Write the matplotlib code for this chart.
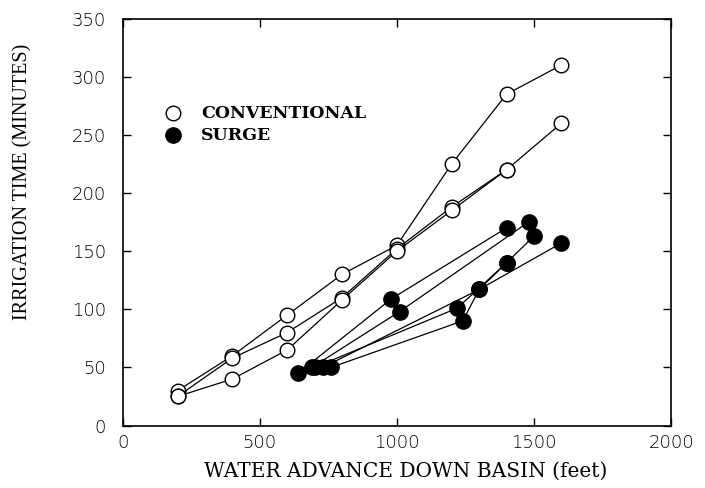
import matplotlib
matplotlib.use("Agg")
import matplotlib.pyplot as plt

# conventional runs (open circles)
conv_x = [
    [200, 400, 600, 800, 1000, 1200, 1400, 1600],
    [200, 400, 600, 800, 1000, 1200, 1400, 1600],
    [200, 400, 600, 800, 1000, 1200, 1400],
]
conv_y = [
    [30, 60, 95, 130, 155, 225, 285, 310],
    [25, 58, 80, 110, 152, 188, 220, 260],
    [25, 40, 65, 108, 150, 185, 220],
]

# surge runs (filled circles)
surge_x = [
    [640, 980, 1400],
    [690, 1010, 1480],
    [700, 1220, 1400, 1500],
    [760, 1240, 1300, 1400],
    [730, 1300, 1600],
]
surge_y = [
    [45, 109, 170],
    [50, 98, 175],
    [50, 101, 140, 163],
    [50, 90, 117, 140],
    [50, 117, 157],
]

x_ticks = [0, 500, 1000, 1500, 2000]
y_ticks = [0, 50, 100, 150, 200, 250, 300, 350]

fig = plt.figure(figsize=(7.05, 4.88), dpi=100)
ax = fig.add_axes([0.174, 0.128, 0.778, 0.834])

for xs, ys in zip(conv_x, conv_y):
    ax.plot(xs, ys, color='black', lw=0.9, marker='o', ms=10.5,
            mfc='white', mec='black', mew=1.0)
for xs, ys in zip(surge_x, surge_y):
    ax.plot(xs, ys, color='black', lw=0.9, marker='o', ms=11,
            mfc='black', mec='black')

ax.set_xlim(0, 2000)
ax.set_ylim(0, 350)
ax.set_xticks(x_ticks)
ax.set_yticks(y_ticks)
ax.tick_params(direction='in', length=6, width=1, top=True, right=True,
               labelsize=13, pad=6)
ax.tick_params(axis='y', pad=12)
for lbl in ax.get_xticklabels() + ax.get_yticklabels():
    lbl.set_fontfamily('DejaVu Sans')
    lbl.set_fontweight('light')
for sp in ax.spines.values():
    sp.set_linewidth(1.2)

# legend drawn by hand, like the original
ax.plot([0.092], [0.767], transform=ax.transAxes, marker='o', ms=10.5,
        mfc='white', mec='black', mew=1.0, clip_on=False)
ax.plot([0.092], [0.713], transform=ax.transAxes, marker='o', ms=11,
        mfc='black', mec='black', clip_on=False)
ax.text(0.143, 0.767, 'CONVENTIONAL', transform=ax.transAxes, va='center',
        family='DejaVu Serif', fontweight='bold', fontsize=12.5)
ax.text(0.143, 0.713, 'SURGE', transform=ax.transAxes, va='center',
        family='DejaVu Serif', fontweight='bold', fontsize=12.5)

fig.text(0.575, 0.035, 'WATER ADVANCE DOWN BASIN (feet)', ha='center',
         va='center', family='DejaVu Serif', fontsize=14.5)
fig.text(0.033, 0.627, 'IRRIGATION TIME (MINUTES)', rotation=90, ha='center',
         va='center', family='Liberation Serif', fontsize=14.5)

fig.savefig('out.png', dpi=100)
